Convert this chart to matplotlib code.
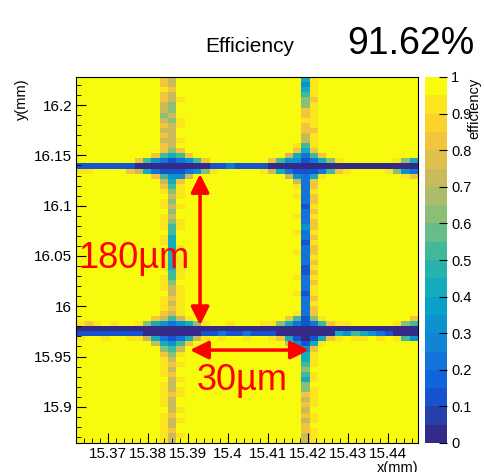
import numpy as np
import matplotlib
matplotlib.use('Agg')
import matplotlib.pyplot as plt
from matplotlib.colors import LinearSegmentedColormap, ListedColormap
from matplotlib.ticker import MultipleLocator, FuncFormatter

plt.rcParams['font.family'] = ['Liberation Sans', 'DejaVu Sans']

# histogram range (mm) and number of bins
x_range = (15.3621, 15.4475)
y_range = (15.864, 16.228)
n_x, n_y = 41, 72

# ROOT kBird palette
bird_stops = [0.0, 0.125, 0.25, 0.375, 0.5, 0.625, 0.75, 0.875, 1.0]
bird_r = [0.2082, 0.0592, 0.0780, 0.0232, 0.1802, 0.5301, 0.8186, 0.9956, 0.9764]
bird_g = [0.1664, 0.3599, 0.5041, 0.6419, 0.7178, 0.7492, 0.7328, 0.7862, 0.9832]
bird_b = [0.5293, 0.8684, 0.8385, 0.7914, 0.6425, 0.4662, 0.3499, 0.1968, 0.0539]
n_levels = 20

# efficiency codes: digit d -> d/10, 'Y' -> 1
# vertical strips, one char per y bin (top -> bottom)
strips = {
    10: "8898877678787" + "888888888" + "9Y99Y999Y99Y9999Y999Y999" + "888888888" + "9999Y99999Y999999",
    11: "7787766767777" + "777777777" + "676767655444444455677878" + "777777777" + "78787778777877877",
    12: "YYYY9YYY99YY9" + "YYYYYYYYY" + "99Y9YY99YYY9Y99999Y99999" + "YYYYYYYYY" + "Y9YY9Y99YY9Y9YY9Y",
    26: "YYYYYYYYYYYYY" + "YYYYYYYYY" + "Y9YYY9YY9YYY9YYYY9YY9YYY" + "YYYYYYYYY" + "YYYYYYYYYYYYYYYYY",
    27: "4345668898877" + "222222222" + "222122232212222112221222" + "222222222" + "45654668787878877",
    28: "9999899999899" + "999999999" + "988989889898898989899898" + "999999999" + "99Y99Y9999Y99Y999",
}

# horizontal bands, one string per y bin, one char per x bin
band_top_first = 13
band_top = [
    "YYYYYYYYYY" + "87Y" + "YYYYYYYYYYYYY" + "959" + "YYYYYYYYYYYY",
    "YYYYYYYYYY" + "868" + "YYYYYYYYYYYYY" + "848" + "YYYYYYYYYYYY",
    "YYYYYYYYY" + "85458" + "YYYYYYYYYYY" + "74258" + "YYYYYYYYYYY",
    "YYYYYYY" + "853212358" + "YYYYYYY" + "853312469" + "YYYYYY" + "964",
    "1111111" + "000000000" + "1121111" + "000000000000000000",
    "99YYYY8" + "7421112369" + "YYYYY" + "97421112589" + "YYYY" + "9632",
    "YYYYYYYYY" + "85337" + "YYYYYYYYYYY" + "73249" + "YYYYYYYYY" + "98",
    "YYYYYYYYYY" + "748" + "YYYYYYYYYYYYY" + "728" + "YYYYYYYYYYYY",
    "YYYYYYYYYY" + "859" + "YYYYYYYYYYYYY" + "928" + "YYYYYYYYYYYY",
]
band_bot_first = 46
band_bot = [
    "YYYYYYYYYY" + "879" + "YYYYYYYYYYYYY" + "928" + "YYYYYYYYYYYY",
    "YYYYYYYYY" + "87579" + "YYYYYYYYYYY" + "85169" + "YYYYYYYYYY" + "8",
    "989Y9YY" + "964323469" + "YY9YYY9" + "9642125899" + "YYYYY" + "965",
    "00000000000000000000000000000000000000000",
    "11111111" + "0000000" + "112112111" + "0000000" + "4354321" + "000",
    "9YY9YY9" + "974212479" + "Y9YY9YY9" + "8410148" + "9Y99Y9Y9" + "53",
    "YYYYYYYYY" + "74358" + "YYYYYYYYYYY" + "73149" + "YYYYYYYYYYY",
    "YYYYYYYYYY" + "657" + "YYYYYYYYYYYYY" + "838" + "YYYYYYYYYYYY",
    "YYYYYYYYYY" + "869" + "YYYYYYYYYYYYY" + "949" + "YYYYYYYYYYYY",
]

total_eff = "91.62%"


def decode(ch):
    return 1.0 if ch == 'Y' else int(ch) / 10 + 0.025


eff = np.ones((n_y, n_x))
for col, codes in strips.items():
    eff[:, col] = [decode(c) for c in codes]
for first, band in [(band_top_first, band_top), (band_bot_first, band_bot)]:
    for i, row in enumerate(band):
        eff[first + i, :] = [decode(c) for c in row]

x_edges = np.linspace(x_range[0], x_range[1], n_x + 1)
y_edges = np.linspace(y_range[1], y_range[0], n_y + 1)  # row 0 is the top

bird = LinearSegmentedColormap.from_list(
    'bird', list(zip(bird_stops, zip(bird_r, bird_g, bird_b))))
cmap = ListedColormap(bird(np.linspace(0, 1, n_levels)))

fig = plt.figure(figsize=(4.85, 4.72), dpi=100)
ax = fig.add_axes([76.5 / 485, 1 - 443 / 472, 341.5 / 485, 366 / 472])
mesh = ax.pcolormesh(x_edges, y_edges, eff, cmap=cmap, vmin=0, vmax=1)
ax.set_xlim(x_range)
ax.set_ylim(y_range)

ax.xaxis.set_major_locator(MultipleLocator(0.01))
ax.xaxis.set_minor_locator(MultipleLocator(0.002))
ax.yaxis.set_major_locator(MultipleLocator(0.05))
ax.yaxis.set_minor_locator(MultipleLocator(0.01))
fmt = FuncFormatter(lambda v, p: '%g' % round(v, 4))
ax.xaxis.set_major_formatter(fmt)
ax.yaxis.set_major_formatter(fmt)
ax.tick_params(which='both', direction='in', labelsize=11, pad=3)
ax.tick_params(which='major', length=7)
ax.tick_params(which='minor', length=3.5)
for s in ax.spines.values():
    s.set_linewidth(0.8)

# colour scale
cax = fig.add_axes([425 / 485, 1 - 443 / 472, 22 / 485, 366 / 472])
cb = fig.colorbar(mesh, cax=cax, ticks=np.arange(0, 1.01, 0.1))
cb.outline.set_visible(False)
cb.ax.set_yticklabels(['%g' % round(t, 1) for t in np.arange(0, 1.01, 0.1)])
cb.ax.tick_params(direction='in', length=6, labelsize=10.5, pad=3)

# annotations
arrow = dict(arrowstyle='<|-|>,head_length=0.5,head_width=0.25', color='red',
             lw=2.5, mutation_scale=22, shrinkA=0, shrinkB=0)
ax.annotate('', xy=(15.3930, 16.1315), xytext=(15.3930, 15.9812), arrowprops=arrow)
ax.annotate('', xy=(15.3905, 15.9564), xytext=(15.4202, 15.9564), arrowprops=arrow)
ax.text(15.3625, 16.038, '180µm', color='red', fontsize=26, ha='left', va='baseline')
ax.text(15.3922, 15.9166, '30µm', color='red', fontsize=26, ha='left', va='baseline')

fig.text(250 / 485, 1 - 47 / 472, 'Efficiency', fontsize=15, ha='center', va='center')
fig.text(411 / 485, 1 - 44 / 472, total_eff, fontsize=27, ha='center', va='center')
fig.text(22 / 485, 1 - 78 / 472, 'y(mm)', fontsize=10.5, rotation=90, ha='center', va='top')
fig.text(418 / 485, 1 - 461 / 472, 'x(mm)', fontsize=10.5, ha='right', va='top')
fig.text(474 / 485, 1 - 78 / 472, 'efficiency', fontsize=10.5, rotation=90, ha='center', va='top')

fig.savefig('out.png', dpi=100)
